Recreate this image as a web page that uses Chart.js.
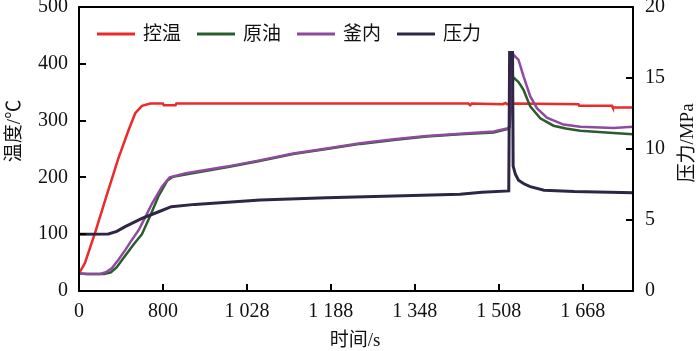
<!DOCTYPE html>
<html><head><meta charset="utf-8">
<script src="https://cdn.jsdelivr.net/npm/chart.js@4/dist/chart.umd.min.js"></script>
<style>html,body{margin:0;padding:0;background:#fff}canvas{display:block}</style>
</head><body>
<canvas id="c" width="700" height="351"></canvas>
<script>
// x positions are in tick-slot units (0 = "0", 1 = "800", 2 = "1 028", ...)
const xTickLabels = ['0', '800', '1 028', '1 188', '1 348', '1 508', '1 668'];
const seriesNames = ['控温', '原油', '釜内', '压力'];
const seriesColors = ['#ec2a2a', '#2a5c2c', '#8e4b9e', '#2f2646'];

const ctrlTemp = [[0,31],[0.07,49],[0.19,102],[0.35,178],[0.47,234],[0.59,283],[0.67,313],[0.75,326],[0.85,330],[1.0,330],[1.01,327],[1.15,327],[1.16,330],[4.64,330],[4.66,327],[4.68,330],[5.05,329],[5.08,331],[5.1,329],[5.2,330],[5.95,329],[5.96,326],[6.35,326],[6.36,323],[6.6,323]];
const crudeOil = [[0,31],[0.1,30],[0.3,30],[0.38,33],[0.45,42],[0.55,62],[0.65,82],[0.75,100],[0.85,133],[0.95,168],[1.05,194],[1.12,201],[1.3,206],[1.76,218],[2.15,229],[2.55,241],[2.95,250],[3.35,259],[3.75,266],[4.14,272],[4.54,276],[4.94,279],[5.1,285],[5.13,289],[5.16,360],[5.176,376],[5.236,368],[5.296,354],[5.375,325],[5.495,304],[5.653,291],[5.8,286],[5.971,282],[6.368,278],[6.6,276]];
const kettleTemp = [[0,31],[0.1,30],[0.25,30],[0.32,33],[0.39,40],[0.47,55],[0.55,72],[0.63,90],[0.71,107],[0.79,130],[0.87,154],[0.99,184],[1.08,200],[1.26,207],[1.38,210],[1.76,219],[2.15,230],[2.55,242],[2.95,251],[3.35,260],[3.75,267],[4.14,273],[4.54,277],[4.94,281],[5.1,286],[5.13,289],[5.16,400],[5.176,416],[5.236,407],[5.296,378],[5.375,343],[5.455,322],[5.574,305],[5.772,293],[5.971,289],[6.368,287],[6.6,289]];
const pressure = [[0,4.0],[0.35,4.02],[0.45,4.2],[0.55,4.53],[0.75,5.12],[0.95,5.58],[1.1,5.94],[1.38,6.1],[2.16,6.41],[2.95,6.57],[3.75,6.69],[4.54,6.81],[4.8,6.95],[5.12,7.05],[5.13,16.8],[5.165,16.8],[5.172,8.8],[5.2,8.2],[5.236,7.8],[5.3,7.55],[5.375,7.35],[5.54,7.1],[5.9,7.0],[6.6,6.92]];

const toPts = arr => arr.map(p => ({x: p[0], y: p[1]}));
const serif = "'Liberation Serif', 'Noto Sans CJK SC', serif";

const framePlugin = {
  id: 'frame',
  afterDatasetsDraw(chart) {
    const ctx = chart.ctx, a = chart.chartArea;
    const {x, y, y2} = chart.scales;
    const L = 7;
    ctx.save();
    ctx.strokeStyle = '#000';
    ctx.lineWidth = 2;
    ctx.beginPath();
    ctx.rect(a.left, a.top, a.right - a.left, a.bottom - a.top);
    x.ticks.forEach(t => { const p = Math.round(x.getPixelForValue(t.value)); ctx.moveTo(p, a.bottom); ctx.lineTo(p, a.bottom - L); });
    y.ticks.forEach(t => { const p = Math.round(y.getPixelForValue(t.value)); ctx.moveTo(a.left, p); ctx.lineTo(a.left + L, p); });
    y2.ticks.forEach(t => { const p = Math.round(y2.getPixelForValue(t.value)); ctx.moveTo(a.right, p); ctx.lineTo(a.right - L, p); });
    ctx.stroke();

    // legend inside the plot
    ctx.font = "19px " + serif;
    ctx.textBaseline = 'middle';
    ctx.textAlign = 'left';
    chart.data.datasets.forEach((ds, i) => {
      const x0 = 97 + i * 100, yy = 34;
      ctx.beginPath();
      ctx.strokeStyle = ds.borderColor;
      ctx.lineWidth = 3;
      ctx.moveTo(x0, yy); ctx.lineTo(x0 + 38, yy);
      ctx.stroke();
      ctx.fillStyle = '#111';
      ctx.fillText(ds.label, x0 + 46, yy + 1);
    });

    // axis titles
    ctx.fillStyle = '#111';
    ctx.font = "19px " + serif;
    ctx.textAlign = 'center';
    ctx.fillText('时间/s', 355, 341);
    ctx.save();
    ctx.translate(15, 131); ctx.rotate(-Math.PI / 2);
    ctx.fillText('温度/℃', 0, 0);
    ctx.restore();
    ctx.save();
    ctx.translate(688, 143); ctx.rotate(-Math.PI / 2);
    ctx.fillText('压力/MPa', 0, 0);
    ctx.restore();
    ctx.restore();
  }
};

const noPad = s => { s.paddingTop = 0; s.paddingBottom = 0; s.paddingLeft = 0; s.paddingRight = 0; };

new Chart(document.getElementById('c'), {
  type: 'line',
  data: {
    datasets: [
      {label: seriesNames[0], data: toPts(ctrlTemp), borderColor: seriesColors[0], yAxisID: 'y', order: 3},
      {label: seriesNames[1], data: toPts(crudeOil), borderColor: seriesColors[1], yAxisID: 'y', order: 2},
      {label: seriesNames[2], data: toPts(kettleTemp), borderColor: seriesColors[2], yAxisID: 'y', order: 1},
      {label: seriesNames[3], data: toPts(pressure), borderColor: seriesColors[3], yAxisID: 'y2', order: 0, borderWidth: 3}
    ]
  },
  options: {
    responsive: false,
    animation: false,
    devicePixelRatio: 1,
    layout: {padding: {top: 7, left: 0, right: 0, bottom: 0}},
    elements: {point: {radius: 0}, line: {borderWidth: 2.5, tension: 0}},
    plugins: {legend: {display: false}, tooltip: {enabled: false}},
    scales: {
      x: {
        type: 'linear', min: 0, max: 6.6,
        grid: {display: false, drawTicks: false}, border: {display: false},
        ticks: {stepSize: 1, includeBounds: false, autoSkip: false, maxRotation: 0, padding: 9,
          color: '#111', font: {family: serif, size: 20},
          callback: v => xTickLabels[v] !== undefined ? xTickLabels[v] : ''},
        afterFit: s => { s.height = 60; noPad(s); }
      },
      y: {
        position: 'left', min: 0, max: 500,
        grid: {display: false, drawTicks: false}, border: {display: false},
        ticks: {stepSize: 100, padding: 11, color: '#111', font: {family: serif, size: 20}},
        afterFit: s => { s.width = 79; noPad(s); }
      },
      y2: {
        position: 'right', min: 0, max: 20,
        grid: {display: false, drawTicks: false}, border: {display: false},
        ticks: {stepSize: 5, padding: 12, color: '#111', font: {family: serif, size: 20}},
        afterFit: s => { s.width = 67; noPad(s); }
      }
    }
  },
  plugins: [framePlugin]
});
</script>
</body></html>
